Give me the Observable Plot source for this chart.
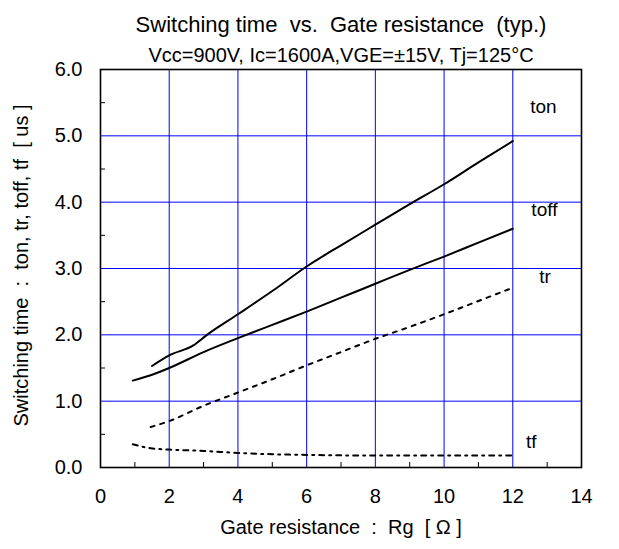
<!DOCTYPE html>
<html>
<head>
<meta charset="utf-8">
<script src="https://cdn.jsdelivr.net/npm/d3@7"></script>
<script src="https://cdn.jsdelivr.net/npm/@observablehq/plot@0.6"></script>
<style>
  html, body { margin: 0; padding: 0; background: #fff; }
  svg text { white-space: pre; }
</style>
</head>
<body>
<div id="chart"></div>
<script>
const titleText = "Switching time  vs.  Gate resistance  (typ.)";
const subtitleText = "Vcc=900V, Ic=1600A,VGE=±15V, Tj=125°C";
const xLabel = "Gate resistance  :  Rg  [ Ω ]";
const yLabel = "Switching time  :  ton, tr, toff, tf  [ us ]";

const xTicks = [0, 2, 4, 6, 8, 10, 12, 14];
const xMinor = [1, 3, 5, 7, 9, 11, 13];
const yTicks = [0, 1, 2, 3, 4, 5, 6];
const yMinor = [0.5, 1.5, 2.5, 3.5, 4.5, 5.5];

const rgTon = [1.5, 2, 2.7, 3.1, 4, 5, 6, 7, 8, 9, 10, 11, 12];
const ton   = [1.53, 1.69, 1.84, 2.0, 2.31, 2.66, 3.03, 3.35, 3.66, 3.97, 4.27, 4.6, 4.92];

const rgToff = [0.94, 1.46, 2, 3, 4, 5, 6, 7, 8, 9, 10, 11, 12];
const toff   = [1.31, 1.39, 1.50, 1.74, 1.95, 2.15, 2.35, 2.56, 2.77, 2.98, 3.18, 3.39, 3.60];

const rgTr = [1.46, 2, 3, 4, 5, 6, 7, 8, 9, 10, 11, 12];
const tr   = [0.61, 0.70, 0.93, 1.13, 1.33, 1.54, 1.74, 1.94, 2.12, 2.31, 2.51, 2.71];

const rgTf = [0.94, 1.46, 2, 3, 4, 5, 6, 8, 10, 12];
const tf   = [0.35, 0.29, 0.27, 0.25, 0.22, 0.20, 0.19, 0.18, 0.18, 0.18];

const seriesNames = ["ton", "toff", "tr", "tf"];
const labelX = [12.89, 12.92, 12.94, 12.54];
const labelY = [5.44, 3.88, 2.87, 0.38];

const zip = (xs, ys) => xs.map((x, i) => ({x, y: ys[i]}));
const labels = seriesNames.map((name, i) => ({name, x: labelX[i], y: labelY[i]}));

const font = "Liberation Sans, Arial, sans-serif";

const chart = Plot.plot({
  width: 619,
  height: 549,
  marginLeft: 100,
  marginRight: 38,
  marginTop: 69,
  marginBottom: 82,
  style: {fontFamily: font, background: "#fff", color: "#000"},
  x: {domain: [0, 14]},
  y: {domain: [0, 6]},
  marks: [
    Plot.gridX(xTicks.slice(1, -1), {stroke: "#0000ff", strokeOpacity: 1, strokeWidth: 1}),
    Plot.gridY(yTicks.slice(1, -1), {stroke: "#0000ff", strokeOpacity: 1, strokeWidth: 1}),
    Plot.axisX(xTicks, {anchor: "bottom", tickSize: 0, tickPadding: 21, fontSize: 20, tickFormat: d => String(d), label: null}),
    Plot.axisX(xMinor, {anchor: "bottom", tickSize: 5, dy: -5, tickFormat: () => "", label: null}),
    Plot.axisY(yTicks, {anchor: "left", tickSize: 0, tickPadding: 18, fontSize: 20, tickFormat: d => d.toFixed(1), label: null}),
    Plot.axisY(yMinor, {anchor: "left", tickSize: 5, dx: 5, tickFormat: () => "", label: null}),
    Plot.line(zip(rgTon, ton), {x: "x", y: "y", stroke: "#000", strokeWidth: 2, curve: "monotone-x"}),
    Plot.line(zip(rgToff, toff), {x: "x", y: "y", stroke: "#000", strokeWidth: 2, curve: "monotone-x"}),
    Plot.line(zip(rgTr, tr), {x: "x", y: "y", stroke: "#000", strokeWidth: 2, strokeDasharray: "4,6", curve: "monotone-x"}),
    Plot.line(zip(rgTf, tf), {x: "x", y: "y", stroke: "#000", strokeWidth: 2, strokeDasharray: "5,5,2,5", curve: "monotone-x"}),
    Plot.text(labels, {x: "x", y: "y", text: "name", fontSize: 19, fill: "#000"}),
    Plot.frame({stroke: "#000", strokeWidth: 1.6}),
    Plot.text([titleText], {frameAnchor: "top", textAnchor: "middle", dy: -52.7, fontSize: 22, fill: "#000"}),
    Plot.text([subtitleText], {frameAnchor: "top", textAnchor: "middle", dy: -22, fontSize: 20, fill: "#000"}),
    Plot.text([xLabel], {frameAnchor: "bottom", textAnchor: "middle", dy: 66.5, fontSize: 20, fill: "#000"}),
    Plot.text([yLabel], {frameAnchor: "left", textAnchor: "middle", dx: -79, dy: -3, rotate: -90, fontSize: 20, fill: "#000"})
  ]
});
document.getElementById("chart").append(chart);
</script>
</body>
</html>
